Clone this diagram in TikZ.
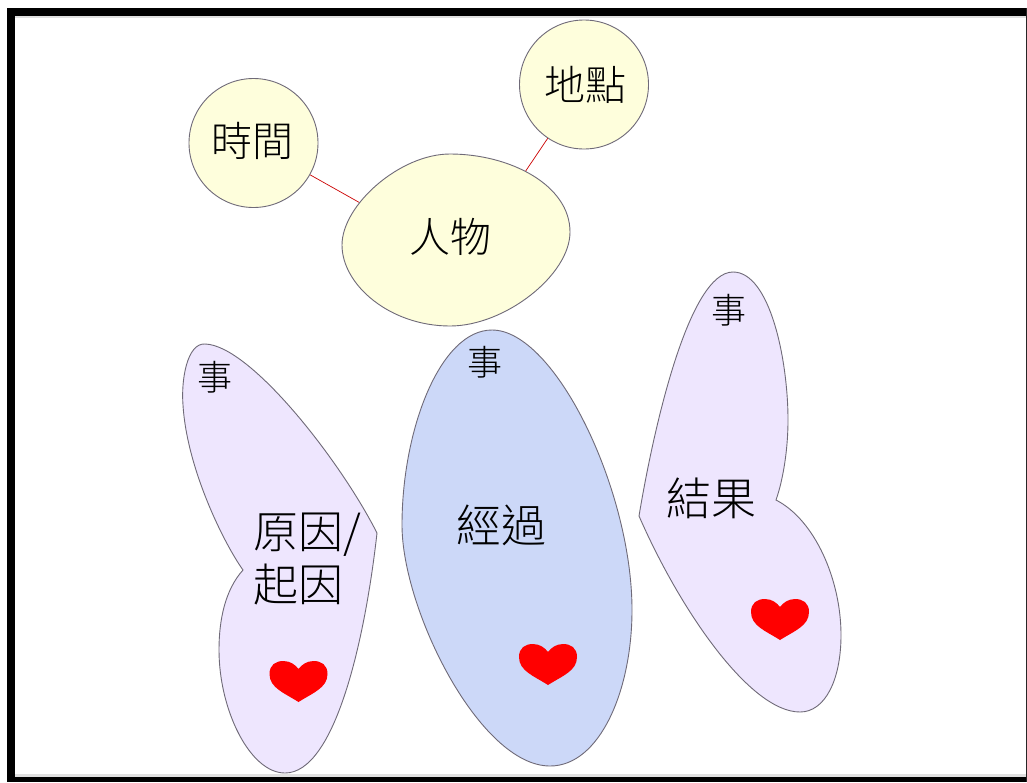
\documentclass[tikz,border=0pt]{standalone}
\usepackage{fontspec}
\setmainfont{Noto Sans CJK TC Light}
\definecolor{blobline}{HTML}{6F6A78}
\definecolor{yellowfill}{HTML}{FEFEDC}
\definecolor{lilacfill}{HTML}{EEE6FE}
\definecolor{bluefill}{HTML}{CCD8F8}
\tikzset{
  blob/.style={draw=blobline,line width=0.9pt},
  yellowblob/.style={blob,fill=yellowfill},
  lilacblob/.style={blob,fill=lilacfill},
  blueblob/.style={blob,fill=bluefill},
  ball/.style={circle,draw=blobline,line width=0.9pt,fill=yellowfill,minimum size=129pt,inner sep=0pt},
  balltext/.style={font=\fontsize{41}{44}\selectfont,inner sep=0pt},
  link/.style={draw=red!80!black,line width=0.7pt},
  biglabel/.style={font=\fontsize{45}{53}\selectfont,inner sep=0pt,align=left},
  smalllabel/.style={font=\fontsize{35}{40}\selectfont,inner sep=0pt},
  heartshape/.style={fill=red,draw=none}
}
\newcommand{\heartat}[2]{%
  \fill[heartshape,shift={(#1,#2)}] (0,20) .. controls (-14,11) and (-29,6) .. (-29,-8)
    .. controls (-29,-17) and (-23,-21) .. (-15,-21)
    .. controls (-8,-21) and (-3,-17) .. (0,-13)
    .. controls (3,-17) and (8,-21) .. (15,-21)
    .. controls (23,-21) and (29,-17) .. (29,-8)
    .. controls (29,6) and (14,11) .. (0,20) -- cycle;}
\begin{document}
\begin{tikzpicture}[x=1pt,y=-1pt]
\useasboundingbox (0,0) rectangle (1027,782);
\fill[white] (0,0) rectangle (1027,782);
% frame
\fill[black] (7,8) rectangle (1027,16);
\fill[black] (7,8) rectangle (15,782);
\fill[black] (7,777) rectangle (1027,782);
\fill[black!85] (1026,8) rectangle (1027,782);
\fill[black!12] (15,16) rectangle (1026,18);
\fill[black!12] (15,774) rectangle (1026,777);
% people group
\coordinate (timeend) at (362,204);
\coordinate (placeend) at (525,172);
\node[ball] (timeball) at (253.5,143) {};
\node[ball] (placeball) at (584,84.5) {};
\draw[link] (timeball) -- (timeend);
\draw[link] (placeball) -- (placeend);
\node[balltext] (timelabel) at (252,141) {時間};
\node[balltext] (placelabel) at (585,85) {地點};
\draw[yellowblob] (342,245) .. controls (342,205) and (400,154) .. (450,154)
  .. controls (510,154) and (570,185) .. (570,232)
  .. controls (570,275) and (505,326) .. (450,326)
  .. controls (390,326) and (342,285) .. (342,245) -- cycle;
\node[balltext] (person) at (450,237) {人物};
% wings
\draw[lilacblob] (377,533) .. controls (340,460) and (250,345) .. (205,344)
  .. controls (187,343) and (181,380) .. (183,405)
  .. controls (187,470) and (225,545) .. (243,570)
  .. controls (225,590) and (219,620) .. (219,650)
  .. controls (219,710) and (250,773) .. (285,773)
  .. controls (335,773) and (365,640) .. (377,533) -- cycle;
\draw[blueblob] (492,330) .. controls (440,330) and (402,430) .. (402,525)
  .. controls (402,610) and (480,766) .. (550,766)
  .. controls (600,766) and (632,690) .. (632,610)
  .. controls (632,490) and (555,330) .. (492,330) -- cycle;
\draw[lilacblob] (639,516) .. controls (655,420) and (690,272) .. (733,272)
  .. controls (770,272) and (788,360) .. (788,420)
  .. controls (788,450) and (783,480) .. (776,500)
  .. controls (815,520) and (841,580) .. (841,635)
  .. controls (841,680) and (825,712) .. (800,712)
  .. controls (750,712) and (680,610) .. (639,516) -- cycle;
% labels
\node[smalllabel] (eventa) at (215,377) {事};
\node[smalllabel] (eventb) at (485,362) {事};
\node[smalllabel] (eventc) at (729,310) {事};
\node[biglabel,anchor=north west] (cause) at (253,513) {原因/\\起因};
\node[biglabel] (process) at (501,525) {經過};
\node[biglabel] (result) at (711,498) {結果};
% hearts
\heartat{298.5}{682}
\heartat{548}{665}
\heartat{780}{620}
\end{tikzpicture}
\end{document}
